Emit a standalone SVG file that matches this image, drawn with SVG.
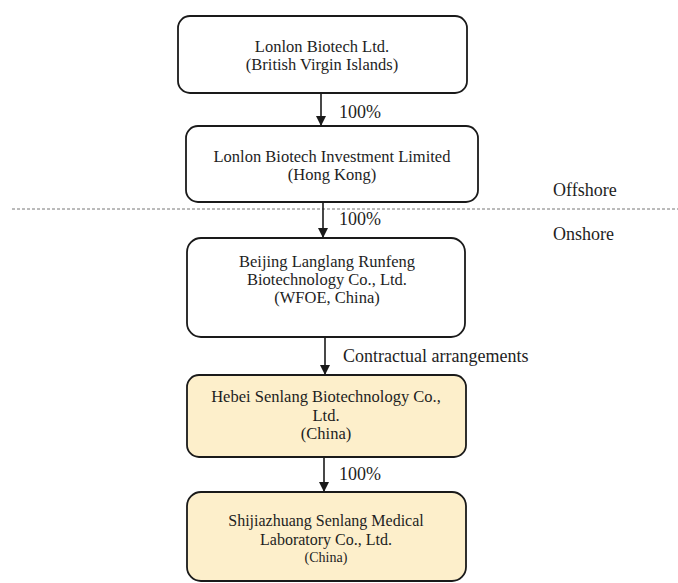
<svg xmlns="http://www.w3.org/2000/svg" width="678" height="583" viewBox="0 0 678 583">
<defs>
<style>
.box{fill:#fff;stroke:#1a1a1a;stroke-width:1.8}
.yel{fill:#fdefcb}
text{font-family:"Liberation Serif","Times New Roman",serif;font-size:16.5px;fill:#1e1e1e}
.c{text-anchor:middle}
.sm{font-size:14px}
.md{font-size:16px}
.lb{font-size:18px}
.ln{stroke:#1a1a1a;stroke-width:1.6;fill:none}
.dash{stroke:#777;stroke-width:1;stroke-dasharray:3 2;fill:none}
</style>
<marker id="ah" viewBox="0 0 10 10" refX="10" refY="5" markerWidth="10" markerHeight="10" markerUnits="userSpaceOnUse" orient="auto">
<path d="M0,0 L10,5 L0,10 z" fill="#1a1a1a"/>
</marker>
</defs>
<rect width="678" height="583" fill="#fff"/>
<g id="divider">
<line class="dash" x1="12" y1="209" x2="678" y2="209"/>
<text class="lb" x="553" y="196">Offshore</text>
<text class="lb" x="553" y="240">Onshore</text>
</g>
<g id="connectors">
<line class="ln" x1="321" y1="93" x2="321" y2="126" marker-end="url(#ah)"/>
<text class="lb" x="339" y="118">100%</text>
<line class="ln" x1="323" y1="202" x2="323" y2="238" marker-end="url(#ah)"/>
<text class="lb" x="339" y="225">100%</text>
<line class="ln" x1="325" y1="337" x2="325" y2="375" marker-end="url(#ah)"/>
<text class="lb" x="343" y="362">Contractual arrangements</text>
<line class="ln" x1="324" y1="457" x2="324" y2="492" marker-end="url(#ah)"/>
<text class="lb" x="339" y="480">100%</text>
</g>
<g id="n1">
<rect class="box" x="178" y="16" width="289" height="77" rx="12"/>
<text class="c" x="322" y="52">Lonlon Biotech Ltd.</text>
<text class="c" x="322" y="70">(British Virgin Islands)</text>
</g>
<g id="n2">
<rect class="box" x="186" y="126" width="292" height="76" rx="12"/>
<text class="c" x="332" y="162">Lonlon Biotech Investment Limited</text>
<text class="c" x="332" y="180">(Hong Kong)</text>
</g>
<g id="n3">
<rect class="box" x="187" y="238" width="278" height="99" rx="14"/>
<text class="c" x="327" y="267">Beijing Langlang Runfeng</text>
<text class="c" x="327" y="285">Biotechnology Co., Ltd.</text>
<text class="c" x="327" y="303">(WFOE, China)</text>
</g>
<g id="n4">
<rect class="box yel" x="187" y="375" width="279" height="82" rx="12"/>
<text class="c" x="326" y="402">Hebei Senlang Biotechnology Co.,</text>
<text class="c" x="326" y="421">Ltd.</text>
<text class="c" x="326" y="439">(China)</text>
</g>
<g id="n5">
<rect class="box yel" x="187" y="492" width="279" height="89" rx="14"/>
<text class="c md" x="326" y="526">Shijiazhuang Senlang Medical</text>
<text class="c md" x="326" y="545">Laboratory Co., Ltd.</text>
<text class="c sm" x="326" y="562">(China)</text>
</g>
</svg>
